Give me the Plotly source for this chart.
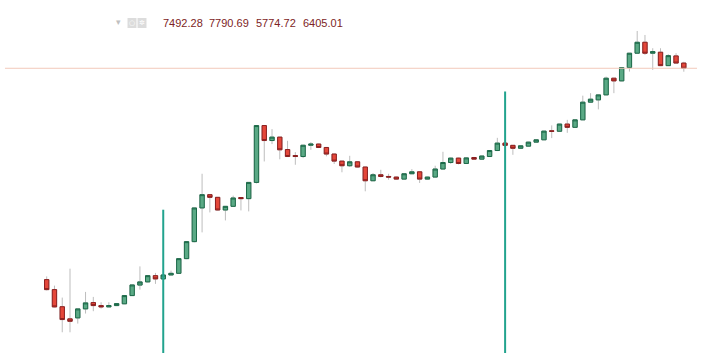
import math
import numpy as np
import pandas as pd
import plotly.graph_objects as go

# Monthly candles (BTC/USD, log scale), Aug 2011 .. Jun 2018
months = pd.date_range("2011-08-01", periods=83, freq="MS").strftime("%Y-%m").tolist()

open_ = [11.08, 8.20, 4.90, 3.40, 3.50, 4.59, 5.55, 5.07, 4.87, 5.07,
         5.35, 6.85, 9.40, 10.34, 12.49, 11.31, 12.74, 13.39, 20.83, 34.75,
         95.8, 142.8, 131.8, 90.0, 100.5, 131, 126.7, 206.5, 1143, 728,
         807, 555, 464, 450, 632, 655, 591, 485, 392, 341,
         384, 328, 217, 260, 247, 242.5, 228, 268, 284, 228,
         242.5, 309, 376, 429, 365, 437, 416, 450, 539, 674,
         630, 577, 615, 694, 744, 975, 962, 1196, 1083, 1357,
         2310, 2476, 2877, 4752, 4382, 6541, 10083, 14020, 10083, 10385,
         6937, 9294, 7492.28]
high = [12.2, 9.25, 6.45, 15.4, 4.60, 7.65, 6.58, 5.60, 5.60, 5.45,
        6.95, 9.60, 16.5, 12.6, 13.55, 12.9, 14.52, 21.0, 35.0, 96.0,
        268, 143.5, 132.5, 101, 138.6, 133, 208, 1150, 1150, 1026,
        810, 722, 514, 640, 694, 665, 600, 490, 395, 460,
        390, 330, 274, 302, 268, 245, 270, 308, 288, 245,
        341, 519, 435, 435, 440, 445, 460, 545, 790, 680,
        635, 625, 700, 750, 975, 1149, 1200, 1357, 1360, 2810,
        3030, 2900, 4984, 4800, 6600, 10150, 19690, 17460, 11710, 11700,
        9783, 10083, 7790.69]
low = [8.0, 4.8, 2.27, 2.27, 2.95, 3.99, 4.28, 4.63, 4.85, 5.00,
       5.30, 6.80, 8.20, 10.2, 9.74, 11.2, 12.6, 13.3, 20.5, 34.0,
       45.9, 83.7, 89.0, 65.8, 100, 88.9, 86.3, 200, 388, 654,
       414, 445, 351, 429, 551, 580, 453, 359, 280, 328,
       325, 158, 215, 240, 224, 225, 225, 265, 203, 226,
       240, 305, 360, 355, 360, 410, 412, 445, 530, 625,
       474, 570, 610, 690, 740, 783, 950, 918, 1075, 1350,
       2300, 1860, 2850, 3030, 4350, 5797, 10000, 9578, 6100, 6850,
       6900, 7500, 5774.72]
close = [8.20, 4.87, 3.33, 3.16, 4.59, 5.50, 5.07, 4.87, 5.07, 5.38,
         6.85, 9.44, 10.34, 12.49, 11.31, 12.74, 13.39, 20.83, 34.75, 95.8,
         142.8, 131.8, 90.0, 100.5, 129.3, 126.7, 206.5, 1143, 728, 807,
         551, 450, 450, 632, 655, 591, 485, 392, 341, 384,
         328, 217, 260, 247, 242.5, 228, 268, 284, 228, 242.5,
         309, 376, 429, 365, 432, 416, 457, 539, 674, 630,
         577, 621, 694, 744, 967, 962, 1196, 1083, 1357, 2310,
         2528, 2877, 4752, 4382, 6541, 10083, 14020, 10083, 10575, 6937,
         9370, 7494, 6405.01]

# Halving markers (index into months) and their drawn heights
halving_idx = [15, 59]
halving_top = [90.8, 3196]

legend_vals = ["7492.28", "7790.69", "5774.72", "6405.01"]

x = np.arange(len(months))
o = np.array(open_); c = np.array(close)
body_hi = np.maximum(o, c)
body_lo = np.minimum(o, c)

G_FILL, G_LINE = "#5aa985", "#1c6a49"
R_FILL, R_LINE = "#e4473a", "#8c1f1f"
WICK = "#bdbdbd"

fig = go.Figure()
# wicks
fig.add_trace(go.Candlestick(
    x=x, open=open_, high=high, low=low, close=close,
    increasing=dict(line=dict(color=WICK, width=1), fillcolor=WICK),
    decreasing=dict(line=dict(color=WICK, width=1), fillcolor=WICK),
    whiskerwidth=0, hoverinfo="skip", showlegend=False))
# bodies
fig.add_trace(go.Candlestick(
    x=x, open=open_, high=body_hi, low=body_lo, close=close,
    text=months,
    increasing=dict(line=dict(color=G_LINE, width=1), fillcolor=G_FILL),
    decreasing=dict(line=dict(color=R_LINE, width=1), fillcolor=R_FILL),
    whiskerwidth=0, showlegend=False))

# halving vertical lines
for i, top in zip(halving_idx, halving_top):
    fig.add_trace(go.Scatter(x=[i, i], y=[top, 0.5], mode="lines",
                             line=dict(color="#22a38e", width=2),
                             hoverinfo="skip", showlegend=False))

# last price line
fig.add_trace(go.Scatter(x=[-5.37, 83.7], y=[close[-1], close[-1]], mode="lines",
                         line=dict(color="#f3c9bb", width=1),
                         hoverinfo="skip", showlegend=False))

W, H = 710, 353
def px(xp): return xp / W
def py(yp): return 1 - yp / H

annotations = []
for xs, t in zip([161, 207, 254, 301], legend_vals):
    annotations.append(dict(x=px(xs), y=py(23), xref="paper", yref="paper",
                            text=t, showarrow=False, xanchor="left", yanchor="middle",
                            font=dict(family="Liberation Sans, Arial, sans-serif",
                                      size=11, color="#7d2424")))
annotations.append(dict(x=px(118), y=py(21), xref="paper", yref="paper", text="▾",
                        showarrow=False, xanchor="center", yanchor="middle",
                        font=dict(size=9, color="#c0c0c0")))
for cx, g in [(132, "○"), (141.5, "✲")]:
    annotations.append(dict(x=px(cx), y=py(23), xref="paper", yref="paper", text=g,
                            showarrow=False, xanchor="center", yanchor="middle",
                            font=dict(family="DejaVu Sans", size=7, color="#ffffff")))

shapes = []
for x0, x1 in [(127.5, 136.5), (137.5, 146.5)]:
    shapes.append(dict(type="rect", xref="paper", yref="paper",
                       x0=px(x0), x1=px(x1), y0=py(28), y1=py(18),
                       fillcolor="#dcdcdc", line=dict(width=0), layer="below"))

fig.update_layout(
    width=W, height=H, margin=dict(l=0, r=0, t=0, b=0),
    paper_bgcolor="white", plot_bgcolor="white",
    boxmode="overlay", boxgap=0.2,
    xaxis=dict(range=[-6.01, 85.37], visible=False, rangeslider=dict(visible=False),
               showgrid=False, zeroline=False),
    yaxis=dict(type="log", range=[0.0853, 4.699], visible=False,
               showgrid=False, zeroline=False),
    annotations=annotations, shapes=shapes, showlegend=False,
)

fig.write_html("out.html")
